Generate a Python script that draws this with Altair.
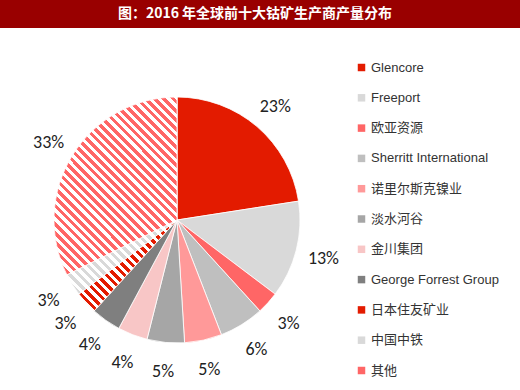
import math
import altair as alt
import pandas as pd

# ---------------- data ----------------
title_text = "图：2016 年全球前十大钴矿生产商产量分布"
names = ["Glencore", "Freeport", "欧亚资源", "Sherritt International", "诺里尔斯克镍业",
         "淡水河谷", "金川集团", "George Forrest Group", "日本住友矿业", "中国中铁", "其他"]
shares = [23, 13, 3, 6, 5, 5, 4, 4, 3, 3, 33]
labels = ["23%", "13%", "3%", "6%", "5%", "5%", "4%", "4%", "3%", "3%", "33%"]
colors = ["#e31b00", "#d9d9d9", "#ff6666", "#bfbfbf", "#ff9999", "#a6a6a6",
          "#f8c6c6", "#7f7f7f", "#e31b00", "#d9d9d9", "#ff6666"]
hatched = ["日本住友矿业", "中国中铁", "其他"]

# ---------------- layout / style ----------------
W, H = 520, 390
CX, CY, R = 177, 220, 123
LABEL_R = 151
PERIOD, FRAC = 9.0, 0.55   # stripe period measured along x (pixels), coloured fraction

total = sum(shares)
df = pd.DataFrame({"name": names, "share": shares, "label": labels,
                   "idx": list(range(len(names)))})


def stripe_gradient(name):
    """Diagonal '\\' stripes as a hard-stop linear gradient over the slice's bbox."""
    i = names.index(name)
    s0 = sum(shares[:i])
    a0 = s0 / total * 2 * math.pi
    a1 = (s0 + shares[i]) / total * 2 * math.pi
    pts = [(0.0, 0.0), (R * math.sin(a0), -R * math.cos(a0)), (R * math.sin(a1), -R * math.cos(a1))]
    for k in range(5):
        a = k * math.pi / 2
        if a0 <= a <= a1:
            pts.append((R * math.sin(a), -R * math.cos(a)))
    xs = [p[0] for p in pts]
    ys = [p[1] for p in pts]
    x0, y0 = CX + min(xs), CY + min(ys)
    w, h = max(xs) - min(xs), max(ys) - min(ys)
    L = w + h
    s_start = x0 - y0 - h
    col = colors[i]

    def color_at(s):
        return col if (s % PERIOD) < FRAC * PERIOD else "#ffffff"

    stops = [{"offset": 0, "color": color_at(s_start + 1e-6)}]
    k = math.floor(s_start / PERIOD) - 1
    while k * PERIOD <= s_start + L:
        for b in (k * PERIOD, k * PERIOD + FRAC * PERIOD):
            if s_start < b < s_start + L:
                o = round((b - s_start) / L, 5)
                stops.append({"offset": o, "color": color_at(b - 1e-6)})
                stops.append({"offset": o, "color": color_at(b + 1e-6)})
        k += 1
    stops.append({"offset": 1, "color": color_at(s_start + L - 1e-6)})
    sc = (w + h) / (w * w + h * h)
    return {"gradient": "linear", "x1": 0, "y1": 1,
            "x2": round(w * sc, 5), "y2": round(1 - h * sc, 5), "stops": stops}


theta_scale = alt.Scale(domain=[0, total])

base = alt.Chart(df).transform_window(
    end="sum(share)", sort=[alt.SortField("idx")], frame=[None, 0]
).transform_calculate(
    start="datum.end - datum.share",
    mid="datum.end - datum.share / 2",
)

pie = base.mark_arc(stroke="white", strokeWidth=0.8).encode(
    x=alt.value(CX), y=alt.value(CY),
    theta=alt.Theta("start:Q", scale=theta_scale),
    theta2="end:Q",
    radius=alt.value(R),
    color=alt.Color(
        "name:N",
        scale=alt.Scale(domain=names, range=colors),
        legend=alt.Legend(
            orient="none", legendX=355, legendY=61, title=None,
            symbolType="square", symbolSize=56, symbolStrokeWidth=0,
            labelFont="Liberation Sans, Noto Sans CJK SC", labelFontSize=13,
            labelColor="#333333", rowPadding=16.3, labelOffset=3, labelLimit=220,
        ),
    ),
)

hatch_layers = []
for n in hatched:
    hatch_layers.append(
        base.transform_filter(alt.datum.name == n)
        .mark_arc(fill=stripe_gradient(n), stroke="white", strokeWidth=0.8)
        .encode(
            x=alt.value(CX), y=alt.value(CY),
            theta=alt.Theta("start:Q", scale=theta_scale),
            theta2="end:Q",
            radius=alt.value(R),
        )
    )

pct = base.mark_text(
    radius=LABEL_R, font="Carlito, Lato, Liberation Sans", fontSize=18, color="#222222",
    dy=2,
).encode(
    x=alt.value(CX), y=alt.value(CY),
    theta=alt.Theta("mid:Q", scale=theta_scale),
    text="label:N",
)

title_df = pd.DataFrame({"t": [title_text]})
band = alt.Chart(title_df).mark_rect(color="#990000").encode(
    x=alt.value(0), x2=alt.value(W), y=alt.value(0), y2=alt.value(28)
)
title = alt.Chart(title_df).mark_text(
    font="Noto Sans CJK SC", fontSize=14, fontWeight="bold", color="white",
    align="center", baseline="middle",
).encode(x=alt.value(255), y=alt.value(14), text="t:N")

chart = alt.layer(band, title, pie, *hatch_layers, pct).properties(
    width=W, height=H, padding=0, autosize="none"
).configure_view(stroke=None)

chart.save("out.html", embed_options={"renderer": "svg", "actions": False})
